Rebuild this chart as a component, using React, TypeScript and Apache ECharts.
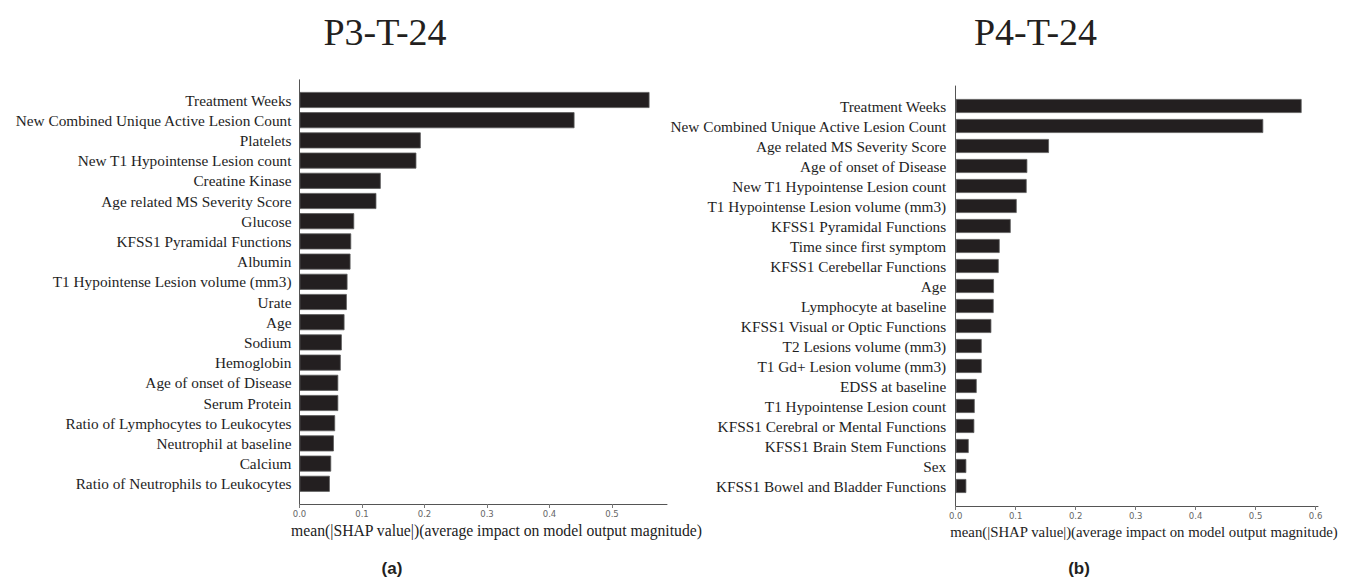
import React, { useEffect, useRef } from 'react';
import * as echarts from 'echarts';

// Panel headings and captions
const panelTitles = ['P3-T-24', 'P4-T-24'];
const panelTags = ['(a)', '(b)'];
const xAxisTitle = 'mean(|SHAP value|)(average impact on model output magnitude)';

// Panel (a): P3-T-24 feature importance (top to bottom)
const p3Features = [
  'Treatment Weeks',
  'New Combined Unique Active Lesion Count',
  'Platelets',
  'New T1 Hypointense Lesion count',
  'Creatine Kinase',
  'Age related MS Severity Score',
  'Glucose',
  'KFSS1 Pyramidal Functions',
  'Albumin',
  'T1 Hypointense Lesion volume (mm3)',
  'Urate',
  'Age',
  'Sodium',
  'Hemoglobin',
  'Age of onset of Disease',
  'Serum Protein',
  'Ratio of Lymphocytes to Leukocytes',
  'Neutrophil at baseline',
  'Calcium',
  'Ratio of Neutrophils to Leukocytes',
];
const p3Values = [
  0.56, 0.44, 0.194, 0.187, 0.13, 0.123, 0.0875, 0.0827, 0.0816, 0.0768,
  0.0757, 0.072, 0.0677, 0.066, 0.062, 0.062, 0.057, 0.055, 0.0507, 0.0485,
];
const p3Ticks = [0, 0.1, 0.2, 0.3, 0.4, 0.5];
const p3AxisMax = 0.588;

// Panel (b): P4-T-24 feature importance (top to bottom)
const p4Features = [
  'Treatment Weeks',
  'New Combined Unique Active Lesion Count',
  'Age related MS Severity Score',
  'Age of onset of Disease',
  'New T1 Hypointense Lesion count',
  'T1 Hypointense Lesion volume (mm3)',
  'KFSS1 Pyramidal Functions',
  'Time since first symptom',
  'KFSS1 Cerebellar Functions',
  'Age',
  'Lymphocyte at baseline',
  'KFSS1 Visual or Optic Functions',
  'T2 Lesions volume (mm3)',
  'T1 Gd+ Lesion volume (mm3)',
  'EDSS at baseline',
  'T1 Hypointense Lesion count',
  'KFSS1 Cerebral or Mental Functions',
  'KFSS1 Brain Stem Functions',
  'Sex',
  'KFSS1 Bowel and Bladder Functions',
];
const p4Values = [
  0.5767, 0.5127, 0.1555, 0.1194, 0.1183, 0.1017, 0.0917, 0.0733, 0.0717, 0.0638,
  0.0633, 0.0594, 0.0433, 0.0433, 0.035, 0.0317, 0.031, 0.0217, 0.0177, 0.0177,
];
const p4Ticks = [0, 0.1, 0.2, 0.3, 0.4, 0.5, 0.6];
const p4AxisMax = 0.604;

const SERIF = '"Liberation Serif", "Times New Roman", serif';
const SANS = '"DejaVu Sans", Verdana, sans-serif';

type Panel = {
  features: string[];
  values: number[];
  ticks: number[];
  axisMax: number;
  grid: { left: number; top: number; width: number; height: number };
  barWidth: number;
  nameShift: number;
  nameSize: number;
  labelMargin: number;
};

const panels: Panel[] = [
  {
    features: p3Features,
    values: p3Values,
    ticks: p3Ticks,
    axisMax: p3AxisMax,
    grid: { left: 299.5, top: 79.8, width: 367.5, height: 424.2 },
    barWidth: 16,
    nameShift: 26.5,
    nameSize: 15.7,
    labelMargin: 8,
  },
  {
    features: p4Features,
    values: p4Values,
    ticks: p4Ticks,
    axisMax: p4AxisMax,
    grid: { left: 955.7, top: 86, width: 362.3, height: 420 },
    barWidth: 14,
    nameShift: 14.3,
    nameSize: 14.8,
    labelMargin: 9.5,
  },
];

function buildOption(): echarts.EChartsOption {
  const grid = panels.map((p) => ({ ...p.grid, containLabel: false }));
  // One blank slot above and below the features pads the axis like the SHAP layout
  const xAxis = panels.map((p, i) => ({
    type: 'value' as const,
    gridIndex: i,
    min: 0,
    max: p.axisMax,
    splitLine: { show: false },
    axisLine: { show: true, lineStyle: { color: '#555', width: 1 } },
    axisTick: { show: true, length: 4, customValues: p.ticks, lineStyle: { color: '#777' } },
    axisLabel: {
      customValues: p.ticks,
      formatter: (v: number) => v.toFixed(1),
      fontFamily: SANS,
      fontSize: 8.5,
      color: '#666',
      margin: 5,
    },
    name: xAxisTitle,
    nameLocation: 'middle' as const,
    nameGap: 16,
    nameTextStyle: {
      fontFamily: SERIF,
      fontSize: p.nameSize,
      color: '#222',
      padding: [0, 0, 0, p.nameShift],
    },
  }));
  const yAxis = panels.map((p, i) => ({
    type: 'category' as const,
    gridIndex: i,
    inverse: true,
    boundaryGap: false,
    data: ['', ...p.features, ''],
    axisLine: { show: true, lineStyle: { color: '#555', width: 1 } },
    axisTick: { show: false },
    splitLine: { show: false },
    axisLabel: {
      interval: 0,
      fontFamily: SERIF,
      fontSize: 15.3,
      color: '#1e1e1e',
      margin: p.labelMargin,
    },
  }));
  const series = panels.map((p, i) => ({
    type: 'bar' as const,
    xAxisIndex: i,
    yAxisIndex: i,
    data: ['-', ...p.values, '-'],
    barWidth: p.barWidth,
    itemStyle: { color: '#231f20', borderColor: '#5a5a5a', borderWidth: 0.8 },
    emphasis: { disabled: true },
  }));
  const titleX = [385, 1035.5];
  const tagX = [392, 1079];
  const graphic = [
    ...panelTitles.map((t, i) => ({
      type: 'text' as const,
      x: titleX[i],
      y: 32,
      style: {
        text: t,
        fontFamily: SERIF,
        fontSize: 38,
        fill: '#231f20',
        align: 'center' as const,
        verticalAlign: 'middle' as const,
      },
    })),
    ...panelTags.map((t, i) => ({
      type: 'text' as const,
      x: tagX[i],
      y: 568,
      style: {
        text: t,
        fontFamily: '"Liberation Sans", Arial, sans-serif',
        fontWeight: 'bold' as const,
        fontSize: 17,
        fill: '#231f20',
        align: 'center' as const,
        verticalAlign: 'middle' as const,
      },
    })),
  ];
  return {
    animation: false,
    backgroundColor: '#ffffff',
    grid,
    xAxis,
    yAxis,
    series,
    graphic,
  } as echarts.EChartsOption;
}

export default function App() {
  const ref = useRef<HTMLDivElement>(null);
  useEffect(() => {
    if (!ref.current) return;
    const chart = echarts.init(ref.current, undefined, { renderer: 'svg' });
    chart.setOption(buildOption());
    return () => chart.dispose();
  }, []);
  return (
    <div
      ref={ref}
      style={{ position: 'fixed', left: 0, top: 0, width: 1348, height: 578, background: '#fff' }}
    />
  );
}
